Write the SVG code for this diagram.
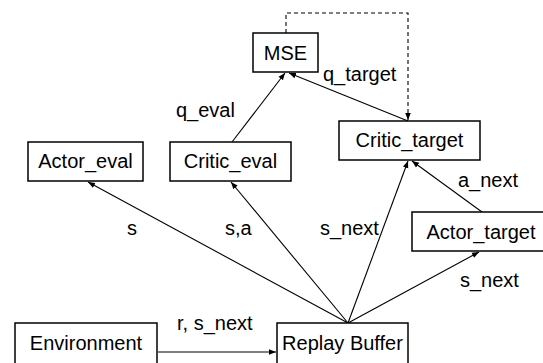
<svg xmlns="http://www.w3.org/2000/svg" width="543" height="363" viewBox="0 0 543 363">
<defs>
<marker id="ah" viewBox="0 0 10 10" refX="10" refY="5" markerWidth="7" markerHeight="7" markerUnits="userSpaceOnUse" orient="auto">
<path d="M0,1 L10,5 L0,9 Z" fill="#000"/>
</marker>
<style>
.box{fill:#fff;stroke:#000;stroke-width:1.5}
.t{font-family:"Liberation Sans",Arial,sans-serif;font-size:20px;fill:#000;text-anchor:middle}
.l{font-family:"Liberation Sans",Arial,sans-serif;font-size:20px;fill:#000}
.c{fill:none;stroke:#000;stroke-width:1.1;marker-end:url(#ah)}
.d{fill:none;stroke:#000;stroke-width:1.1;stroke-dasharray:4,3;marker-end:url(#ah)}
</style>
</defs>
<rect width="543" height="363" fill="#fff"/>
<g id="connectors">
<path class="d" d="M286,33 V13 H408 V120"/>
<line class="c" x1="232" y1="142" x2="285" y2="73"/>
<line class="c" x1="408" y1="121" x2="289" y2="73"/>
<line class="c" x1="348" y1="323" x2="88" y2="182"/>
<line class="c" x1="348" y1="323" x2="231" y2="182"/>
<line class="c" x1="348" y1="323" x2="408" y2="161"/>
<line class="c" x1="348" y1="323" x2="479" y2="252"/>
<line class="c" x1="482" y1="212" x2="412" y2="161"/>
<line class="c" x1="158" y1="352" x2="276" y2="352"/>
<text class="l" x="323" y="81">q_target</text>
<text class="l" x="176" y="117">q_eval</text>
<text class="l" x="127" y="235">s</text>
<text class="l" x="225" y="235">s,a</text>
<text class="l" x="320" y="235">s_next</text>
<text class="l" x="458" y="187">a_next</text>
<text class="l" x="460" y="287">s_next</text>
<text class="l" x="177" y="330">r, s_next</text>
</g>
<g id="mse"><rect class="box" x="253" y="33" width="65" height="39"/><text class="t" x="285.5" y="60">MSE</text></g>
<g id="actor_eval"><rect class="box" x="28" y="142" width="115" height="39"/><text class="t" x="85.5" y="168">Actor_eval</text></g>
<g id="critic_eval"><rect class="box" x="170" y="142" width="121" height="39"/><text class="t" x="230.5" y="168">Critic_eval</text></g>
<g id="critic_target"><rect class="box" x="339" y="121" width="141" height="39"/><text class="t" x="409.5" y="147">Critic_target</text></g>
<g id="actor_target"><rect class="box" x="412" y="212" width="132" height="39"/><text class="t" x="481" y="239">Actor_target</text></g>
<g id="environment"><rect class="box" x="15" y="323" width="142" height="42"/><text class="t" x="86" y="350">Environment</text></g>
<g id="replay_buffer"><rect class="box" x="277" y="323" width="131" height="42"/><text class="t" x="342.5" y="350">Replay Buffer</text></g>
</svg>
